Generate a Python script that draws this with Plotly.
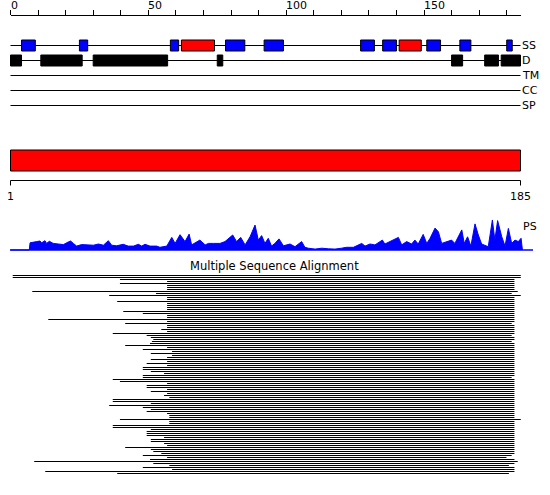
import plotly.graph_objects as go

# ---------------- data ----------------
SEQ_LEN = 185
TRACK_NAMES = ["SS", "D", "TM", "CC", "SP"]
TOP_TICK_LABELS = [0, 50, 100, 150]

SS_STRAND = [(4, 9), (25, 28), (58, 61), (78, 85), (92, 99), (127, 132),
             (135, 140), (151, 156), (163, 167), (180, 182)]
SS_HELIX = [(62, 74), (141, 149)]
DISORDER = [(0, 4), (11, 26), (30, 57), (75, 77), (160, 164), (172, 177), (178, 185)]

PS_POS = [0, 6.8, 7.1, 8.3, 9.5, 10.7, 11.3, 12.5, 13.1, 14.1, 15.5, 17.4, 19.2, 21.0, 21.8,
          22.8, 24.0, 25.8, 27.6, 30.1, 31.9, 33.7, 35.5, 36.7, 38.5, 40.9, 42.7, 44.6, 46.4,
          47.6, 48.8, 50.6, 53.0, 54.2, 56.7, 58.5, 59.7, 61.5, 63.3, 64.8, 65.7, 67.5, 68.7,
          70.6, 71.8, 73.6, 76.0, 77.8, 80.6, 82.0, 83.5, 85.1, 86.9, 88.7, 89.9, 91.1, 92.3,
          93.5, 94.7, 95.9, 97.4, 99.0, 101.4, 103.2, 105.6, 106.8, 108.0, 110.5, 112.9, 115.3,
          117.7, 120.1, 121.9, 124.4, 127.4, 128.6, 130.4, 132.2, 134.9, 135.8, 137.7, 139.2,
          140.7, 141.9, 143.7, 145.5, 146.7, 147.9, 149.7, 151.0, 152.2, 154.0, 155.2, 156.4,
          158.2, 160.0, 161.2, 163.7, 164.6, 165.8, 167.0, 168.5, 169.7, 170.9, 173.3, 174.8,
          175.7, 176.7, 178.2, 179.4, 180.6, 181.8, 183.0, 184.2, 185.2, 185.7]
PS_VAL = [0, 0, 0.24, 0.27, 0.28, 0.30, 0.24, 0.31, 0.22, 0.29, 0.22, 0.20, 0.18, 0.27, 0.30,
          0.22, 0.13, 0.18, 0.17, 0.16, 0.20, 0.16, 0.31, 0.16, 0.14, 0.19, 0.13, 0.13, 0.19,
          0.13, 0.19, 0.13, 0.13, 0.09, 0.13, 0.42, 0.22, 0.51, 0.28, 0.53, 0.17, 0.28, 0.33,
          0.17, 0.22, 0.22, 0.22, 0.28, 0.50, 0.28, 0.42, 0.17, 0.44, 0.83, 0.33, 0.48, 0.22,
          0.39, 0.13, 0.22, 0.37, 0.14, 0.20, 0.11, 0.28, 0.09, 0.06, 0.03, 0.06, 0.04,
          0.03, 0.06, 0.09, 0.09, 0.22, 0.13, 0.20, 0.17, 0.33, 0.20, 0.28, 0.36,
          0.42, 0.17, 0.28, 0.20, 0.33, 0.20, 0.52, 0.22, 0.39, 0.73, 0.61, 0.22,
          0.28, 0.33, 0.22, 0.67, 0.22, 0.44, 0.13, 0.87, 0.50, 0.20, 0.11, 1.00,
          0.33, 0.98, 0.44, 0.13, 0.72, 0.22, 0.33, 0.28, 0.39, 0]

MSA_START = [0.8, 0.8, 39.7, 56.8, 39.7, 56.8, 56.8, 56.8, 7.9, 52.8,
             35.8, 56.8, 56.8, 38.7, 56.8, 56.8, 56.8, 56.8, 40.9, 48.0,
             56.8, 56.8, 13.7, 56.8, 41.6, 56.8, 56.8, 54.7, 56.8, 37.1,
             49.4, 50.9, 51.8, 51.3, 50.6, 41.6, 56.8, 48.0, 58.6, 50.9,
             58.6, 56.8, 50.9, 56.8, 49.4, 56.8, 48.0, 48.0, 50.9, 55.7,
             48.0, 48.0, 37.1, 39.7, 56.8, 49.4, 49.4, 56.8, 50.9, 56.8,
             55.7, 57.6, 37.1, 37.1, 50.9, 35.8, 48.0, 50.9, 49.4, 56.8,
             57.6, 57.6, 39.7, 57.6, 57.6, 37.1, 37.1, 50.9, 49.4, 49.4,
             49.4, 55.7, 50.9, 50.9, 55.7, 56.8, 41.6, 50.9, 51.8, 54.7,
             48.0, 56.8, 50.6, 8.6, 51.8, 57.6, 48.0, 58.6, 12.6, 38.7]
MSA_END = [185.1, 185.1, 182.8, 182.8, 182.8, 182.8, 182.8, 182.8, 184.0, 181.8,
           185.1, 182.8, 182.8, 182.8, 182.8, 182.8, 182.8, 182.8, 182.8, 182.8,
           182.8, 182.8, 182.8, 182.8, 181.8, 182.8, 182.8, 182.8, 182.8, 182.8,
           181.8, 182.8, 182.8, 181.8, 182.8, 182.8, 182.8, 182.8, 182.8, 182.8,
           182.8, 182.8, 182.8, 182.8, 182.8, 182.8, 182.8, 182.8, 182.8, 182.8,
           182.8, 181.8, 182.8, 182.8, 182.8, 182.8, 182.8, 182.8, 182.8, 182.8,
           182.8, 182.8, 182.8, 182.8, 182.8, 182.8, 182.8, 182.8, 182.8, 182.8,
           182.8, 182.8, 185.1, 182.8, 182.8, 182.8, 182.8, 182.8, 182.8, 182.8,
           182.8, 182.8, 182.8, 182.8, 182.8, 182.8, 182.8, 182.8, 182.8, 182.8,
           181.8, 179.9, 182.8, 184.0, 182.8, 180.8, 182.8, 182.8, 182.8, 180.8]

assert len(PS_POS) == len(PS_VAL)
assert len(MSA_START) == len(MSA_END)

# ---------------- geometry / style ----------------
W, H = 550, 495
X0_PX, X1_PX = 10.5, 520.5
K = (X1_PX - X0_PX) / SEQ_LEN          # pixels per residue
FONT = dict(family="DejaVu Sans", size=11, color="black")
BLUE, RED, BLACK = "#0000ff", "#ff0000", "#000000"


def yfrac(px):
    return 1 - px / H


def ydom(top, bottom):
    return [1 - bottom / H, 1 - top / H]


ROW_PITCH, ROW0_PX = 15, 45.5
TRACK_TOP, TRACK_BOT = 30, 113
BOX_PX = 11
RULER_PX = 15.5

fig = go.Figure()

# track baselines (shapes, under the boxes)
shapes = []
for i, _ in enumerate(TRACK_NAMES):
    shapes.append(dict(type="line", xref="x", yref="y", x0=0, x1=SEQ_LEN, y0=i, y1=i,
                       line=dict(color=BLACK, width=1), layer="below"))


def boxes(segs, row, color):
    return go.Bar(orientation="h", y=[row] * len(segs), base=[s for s, e in segs],
                  x=[e - s for s, e in segs], width=BOX_PX / ROW_PITCH,
                  marker=dict(color=color, line=dict(color=BLACK, width=1)),
                  xaxis="x", yaxis="y", hoverinfo="skip")


fig.add_trace(boxes(SS_STRAND, TRACK_NAMES.index("SS"), BLUE))
fig.add_trace(boxes(SS_HELIX, TRACK_NAMES.index("SS"), RED))
fig.add_trace(boxes(DISORDER, TRACK_NAMES.index("D"), BLACK))
# empty trace so the top ruler axis (x2 / y6) exists
fig.add_trace(go.Scatter(x=[], y=[], xaxis="x2", yaxis="y6", hoverinfo="skip"))

# coverage bar
fig.add_trace(go.Bar(orientation="h", y=[0], base=[0], x=[SEQ_LEN], width=21 / 20,
                     marker=dict(color=RED, line=dict(color=BLACK, width=1)),
                     xaxis="x", yaxis="y2", hoverinfo="skip"))

# scale bar
fig.add_trace(go.Scatter(x=[0, 0, SEQ_LEN, SEQ_LEN], y=[1, 0, 0, 1], mode="lines",
                         line=dict(color=BLACK, width=1), xaxis="x", yaxis="y3",
                         hoverinfo="skip"))

# PS profile
fig.add_trace(go.Scatter(x=PS_POS, y=PS_VAL, mode="lines", fill="tozeroy",
                         fillcolor=BLUE, line=dict(color=BLUE, width=1),
                         xaxis="x", yaxis="y4", hoverinfo="skip"))
shapes.append(dict(type="line", xref="paper", yref="y4", x0=10 / W, x1=533 / W, y0=0, y1=0,
                   line=dict(color=BLUE, width=1.5), layer="above"))

# MSA
mx, my = [], []
for i, (s, e) in enumerate(zip(MSA_START, MSA_END)):
    mx += [s, e, None]
    my += [i, i, None]
fig.add_trace(go.Scatter(x=mx, y=my, mode="lines", line=dict(color=BLACK, width=1),
                         xaxis="x", yaxis="y5", hoverinfo="skip"))

# annotations
ann = []
for v in TOP_TICK_LABELS:
    ann.append(dict(text=str(v), xref="x2", x=v, xanchor="left", yref="paper",
                    y=yfrac(5.5), yanchor="middle", showarrow=False, font=FONT, xshift=-2))
for i, name in enumerate(TRACK_NAMES):
    ann.append(dict(text=name, xref="x", x=SEQ_LEN, xanchor="left", yref="y", y=i,
                    yanchor="middle", showarrow=False, font=FONT, xshift=-1))
ann.append(dict(text="1", xref="x", x=0, xanchor="center", yref="paper", y=yfrac(196),
                yanchor="middle", showarrow=False, font=FONT))
ann.append(dict(text=str(SEQ_LEN), xref="x", x=SEQ_LEN, xanchor="center", yref="paper",
                y=yfrac(196), yanchor="middle", showarrow=False, font=FONT))
ann.append(dict(text="PS", xref="x", x=SEQ_LEN, xanchor="left", yref="paper", y=yfrac(226),
                yanchor="middle", showarrow=False, font=FONT))
ann.append(dict(text="Multiple Sequence Alignment", xref="paper", x=274 / W, xanchor="center",
                yref="paper", y=yfrac(266), yanchor="middle", showarrow=False,
                font=dict(FONT, size=11.5)))

hidden = dict(visible=False, showgrid=False, zeroline=False, fixedrange=True)
fig.update_layout(
    width=W, height=H, margin=dict(l=0, r=0, t=0, b=0),
    paper_bgcolor="white", plot_bgcolor="white", showlegend=False,
    barmode="overlay", font=FONT, shapes=shapes, annotations=ann,
    xaxis=dict(domain=[0, 1], range=[-X0_PX / K, SEQ_LEN + (W - X1_PX) / K], **hidden),
    xaxis2=dict(domain=[X0_PX / W, X1_PX / W], range=[0, SEQ_LEN], anchor="y6", side="top",
                showline=True, linecolor=BLACK, linewidth=1, ticks="outside", ticklen=5,
                tickwidth=1, tickcolor=BLACK, tick0=0, dtick=10, showticklabels=False,
                showgrid=False, zeroline=False, fixedrange=True),
    yaxis6=dict(domain=ydom(RULER_PX, RULER_PX + 5), anchor="x2", range=[0, 1], **hidden),
    yaxis=dict(domain=ydom(TRACK_TOP, TRACK_BOT), anchor="x",
               range=[(TRACK_BOT - ROW0_PX) / ROW_PITCH, -(ROW0_PX - TRACK_TOP) / ROW_PITCH],
               **hidden),
    yaxis2=dict(domain=ydom(140.5, 180.5), anchor="x", range=[-1, 1], **hidden),
    yaxis3=dict(domain=ydom(178.5, 188.5), anchor="x", range=[1.6, -0.4], **hidden),
    yaxis4=dict(domain=ydom(219.5, 252), anchor="x", range=[-2 / 30, 1 + 0.5 / 30], **hidden),
    yaxis5=dict(domain=ydom(274.5, 474.5), anchor="x",
                range=[len(MSA_START) - 0.5, -0.5], **hidden),
)

fig.write_html("out.html", config={"displayModeBar": False, "staticPlot": True},
               post_script="document.body.style.margin='0';")
